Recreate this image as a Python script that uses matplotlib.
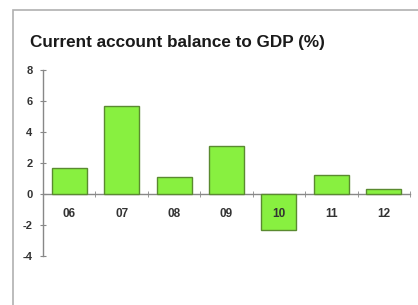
import matplotlib
matplotlib.use("Agg")
import matplotlib.pyplot as plt
from matplotlib.patches import Rectangle

years = ["06", "07", "08", "09", "10", "11", "12"]
values = [1.7, 5.7, 1.1, 3.1, -2.3, 1.2, 0.3]
yticks = [-4, -2, 0, 2, 4, 6, 8]

W, H = 418, 305
fig = plt.figure(figsize=(W / 100, H / 100), dpi=100)
fig.patch.set_facecolor("white")

# outer frame (clipped by figure edges)
fig.patches.append(Rectangle((13 / W, -0.1), 1.2, 1 - 10 / H + 0.1,
                             transform=fig.transFigure, fill=False,
                             edgecolor="#b0b0b0", linewidth=1.2))

fig.text(30 / W, 1 - 43 / H, "Current account balance to GDP (%)",
         fontsize=12.3, fontweight="bold", family="Liberation Sans",
         color="#1a1a1a", va="center", ha="left")

ax = fig.add_axes([43 / W, 1 - 256 / H, 367 / W, 186 / H])
x = list(range(len(years)))
ax.bar(x, values, width=0.67, color="#88f040", edgecolor="#5a8a30", linewidth=1.0, zorder=2)
ax.set_xlim(-0.5, len(years) - 0.5)
ax.set_ylim(-4, 8)
ax.set_axisbelow(False)

for s in ["top", "right"]:
    ax.spines[s].set_visible(False)
ax.spines["bottom"].set_position(("data", 0))
for s in ["left", "bottom"]:
    ax.spines[s].set_color("#888888")
    ax.spines[s].set_linewidth(1.0)
ax.spines["bottom"].set_zorder(1.5)

ax.set_yticks(yticks)
ax.set_yticklabels([str(v) for v in yticks])
ax.tick_params(axis="y", direction="inout", length=5, color="#888888",
               labelsize=8, labelcolor="#333333", pad=5)
ax.set_xticks(x)
ax.set_xticklabels(years)
ax.tick_params(axis="x", which="major", length=0, labelsize=8.5,
               labelcolor="#333333", pad=10)
ax.set_xticks([i + 0.5 for i in x], minor=True)
ax.tick_params(axis="x", which="minor", direction="inout", length=5, color="#888888")
for lab in ax.get_xticklabels() + ax.get_yticklabels():
    lab.set_family("Liberation Sans")
    lab.set_fontweight("bold")
ax.set_facecolor("none")

fig.savefig("out.png", dpi=100)
